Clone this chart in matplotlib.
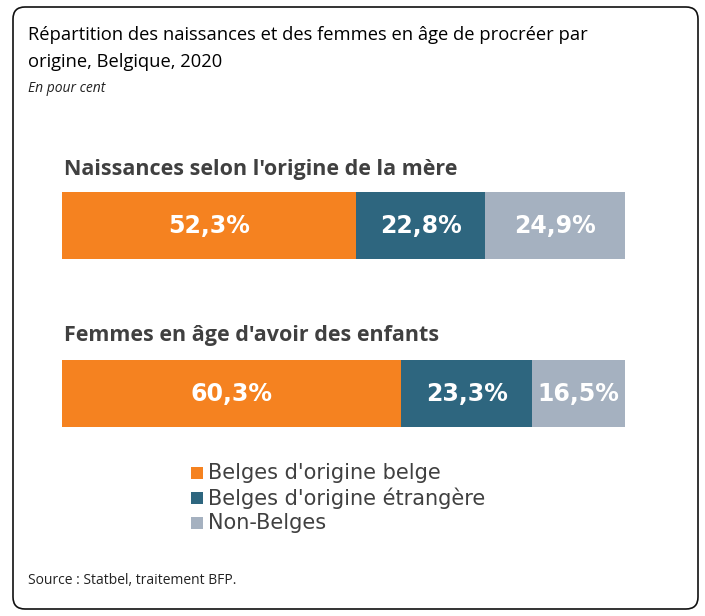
#Stacked horizontal bars: births and women of childbearing age by origin
import matplotlib
matplotlib.use('Agg')
import matplotlib.pyplot as plt
from matplotlib.patches import FancyBboxPatch, Rectangle

rows = ["Naissances selon l'origine de la mère", "Femmes en âge d'avoir des enfants"]
categories = ["Belges d'origine belge", "Belges d'origine étrangère", "Non-Belges"]
colors = ['#F58220', '#2E667F', '#A5B1C0']
naissances = [52.3, 22.8, 24.9]
femmes = [60.3, 23.3, 16.5]
values = [naissances, femmes]

W, H = 705, 616
fig = plt.figure(figsize=(W/100, H/100), dpi=100)
bg = fig.add_axes([0, 0, 1, 1])
bg.set_xlim(0, W)
bg.set_ylim(H, 0)
bg.axis('off')

#rounded frame
bg.add_patch(FancyBboxPatch((13, 7), 685, 602, boxstyle='round,pad=0,rounding_size=12',
                            fc='white', ec='#111111', lw=1.2))

title_font = ['Open Sans', 'DejaVu Sans']
bg.text(28, 35, "Répartition des naissances et des femmes en âge de procréer par", fontsize=13.2,
        family=title_font, color='black', va='center')
bg.text(28, 62, "origine, Belgique, 2020", fontsize=13.2, family=title_font, color='black', va='center')
bg.text(28, 88, "En pour cent", fontsize=10, style='italic', family=title_font, color='#222222', va='center')

#bars in their own axes, percent scale
ax = fig.add_axes([62/W, 1 - 427/H, (625-62)/W, (427-192)/H])
ax.set_xlim(0, 100)
ax.set_ylim(427, 192)
ax.axis('off')
tops = [225.5, 393.5]
for row, y in zip(values, tops):
    total = sum(row)
    left = 0
    for v, c in zip(row, colors):
        w = v / total * 100
        ax.barh(y, w, height=67, left=left, color=c)
        ax.text(left + w/2, y, '{:.1f}%'.format(v).replace('.', ','), color='white', fontsize=17,
                fontweight='bold', family='DejaVu Sans', ha='center', va='center')
        left += w

bg.text(64, 169, rows[0], fontsize=15.5, fontweight='bold', family=title_font, color='#404040', va='center')
bg.text(64, 336, rows[1], fontsize=15.5, fontweight='bold', family=title_font, color='#404040', va='center')

#legend
for i, (name, c) in enumerate(zip(categories, colors)):
    y = 473 + i * 25
    bg.add_patch(Rectangle((191, y - 6), 12, 12, fc=c, ec='none'))
    bg.text(208, y, name, fontsize=15, family='DejaVu Sans', color='#404040', va='center')

bg.text(28, 580, "Source : Statbel, traitement BFP.", fontsize=10, family=title_font, color='#222222', va='center')

fig.savefig('out.png', dpi=100)
